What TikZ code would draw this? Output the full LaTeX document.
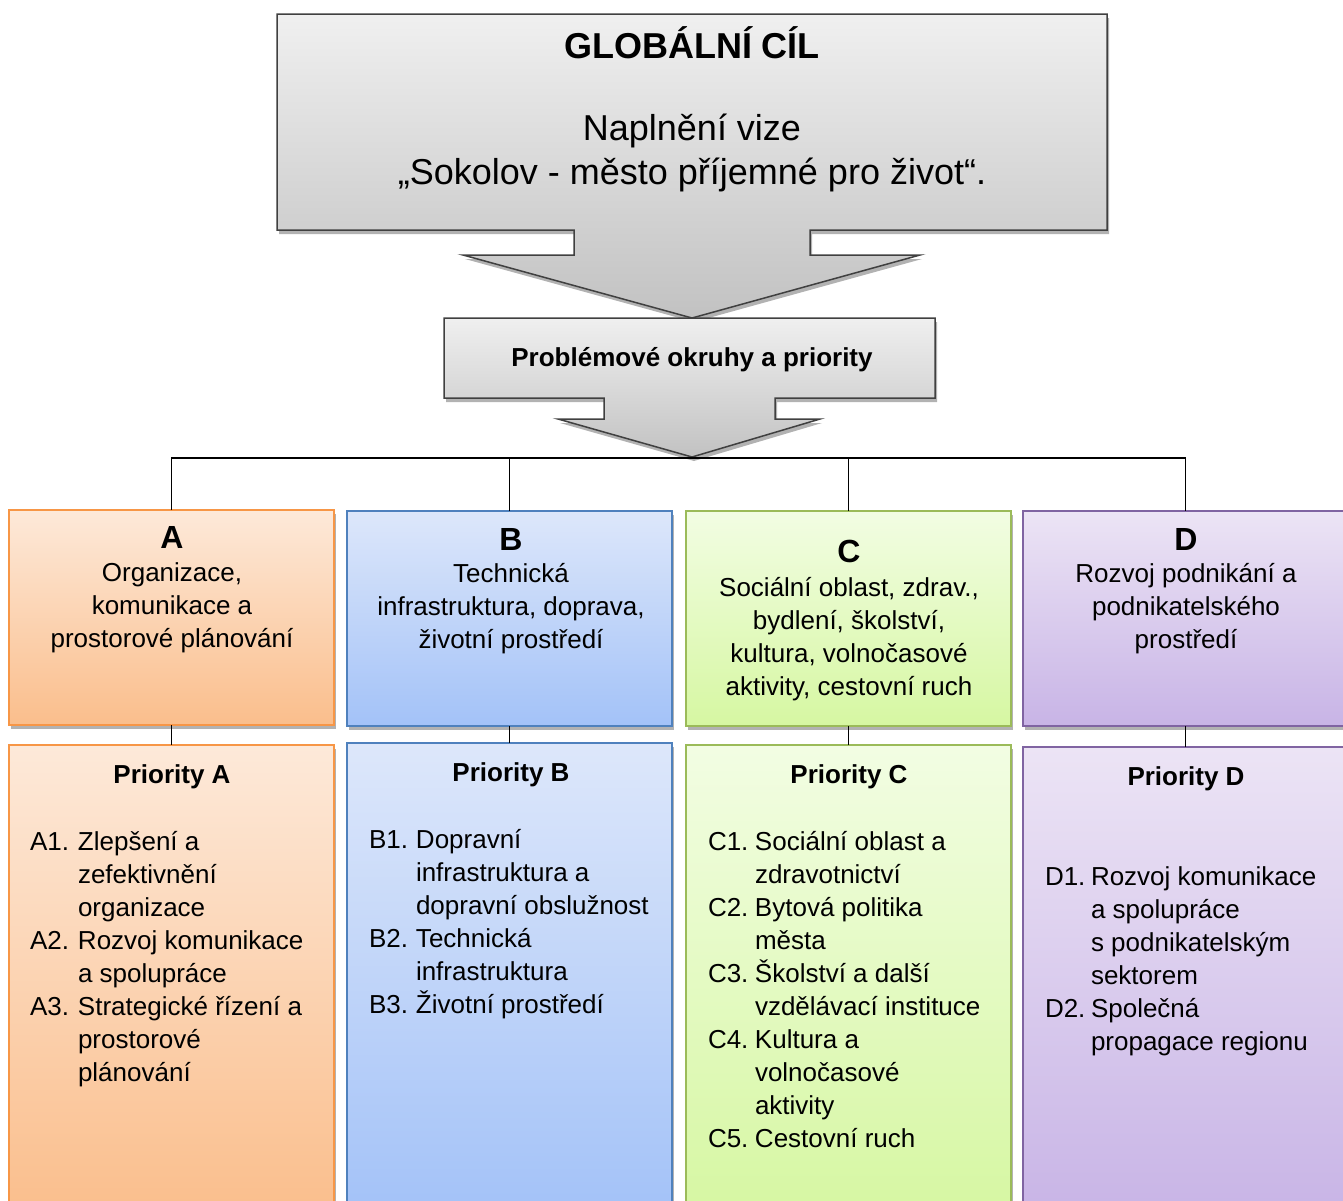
\documentclass[tikz,border=0pt]{standalone}
\usepackage{fontspec}
\setmainfont{Liberation Sans}
\usetikzlibrary{shadows}

\definecolor{orA}{HTML}{F79646}
\definecolor{orAtop}{HTML}{FDE9D9}
\definecolor{orAbot}{HTML}{FABE8C}
\definecolor{blB}{HTML}{4F81BD}
\definecolor{blBtop}{HTML}{DDE7FA}
\definecolor{blBbot}{HTML}{A3C2F8}
\definecolor{grC}{HTML}{9BBB59}
\definecolor{grCtop}{HTML}{F2FDE3}
\definecolor{grCbot}{HTML}{D6F7A2}
\definecolor{viD}{HTML}{8064A2}
\definecolor{viDtop}{HTML}{ECE4F5}
\definecolor{viDbot}{HTML}{C8B4E6}

\newcommand{\bodyfont}{\fontsize{26}{33}\selectfont}

\begin{document}
\begin{tikzpicture}[
  x=1pt, y=-1pt,
  every node/.style={inner sep=0pt, outer sep=0pt, font=\bodyfont},
  boxshadow/.style={drop shadow={shadow xshift=2pt, shadow yshift=-4pt, opacity=0.3, fill=black}},
  arrowbox/.style={draw=black!75, line width=1.5pt, top color=black!6, bottom color=black!24, boxshadow},
  area/.style={draw, line width=2pt, minimum width=325pt, minimum height=215pt, anchor=north west, boxshadow},
  prio/.style={area, minimum height=470pt},
  colA/.style={draw=orA, top color=orAtop, bottom color=orAbot},
  colB/.style={draw=blB, top color=blBtop, bottom color=blBbot},
  colC/.style={draw=grC, top color=grCtop, bottom color=grCbot},
  colD/.style={draw=viD, top color=viDtop, bottom color=viDbot},
  letter/.style={font=\bfseries\fontsize{32}{38}\selectfont},
  head/.style={font=\bfseries\bodyfont, anchor=base},
  link/.style={draw=black, line width=1.5pt}
]
\useasboundingbox (0,0) rectangle (1343,1200);
\clip (0,0) rectangle (1343,1200);

% Global goal arrow
\draw[arrowbox] (277,14) -- (1107,14) -- (1107,230) -- (810,230) -- (810,255) -- (920,255)
  -- (692,318) -- (463,255) -- (574,255) -- (574,230) -- (277,230) -- cycle;
\node[font=\bfseries\fontsize{36}{44}\selectfont, anchor=base] (goalhead) at (692,58) {GLOBÁLNÍ CÍL};
\node[font=\fontsize{36}{44}\selectfont, anchor=north] (goaltext) at (692,110)
  {\begin{tabular}{@{}c@{}}Naplnění vize\\„Sokolov - město příjemné pro život“.\end{tabular}};

% Problem areas arrow
\draw[arrowbox] (444,318) -- (935,318) -- (935,398) -- (775,398) -- (775,419) -- (820,419)
  -- (692,457) -- (558,419) -- (604,419) -- (604,398) -- (444,398) -- cycle;
\node[head] (probl) at (692,366) {Problémové okruhy a priority};
\coordinate (hub) at (692,458);

% Areas
\node[area, colA] (areaA) at (9,510) {};
\node[area, colB] (areaB) at (347,511) {};
\node[area, colC] (areaC) at (686,511) {};
\node[area, colD] (areaD) at (1023,511) {};
\draw[link] (areaA.north) |- (hub) -| (areaD.north);
\draw[link] (areaB.north) -- (areaB.north |- hub);
\draw[link] (areaC.north) -- (areaC.north |- hub);

\node[letter] (letA) at (172,537) {A};
\node[letter] (letB) at (511,539) {B};
\node[letter] (letC) at (849,551) {C};
\node[letter] (letD) at (1186,539) {D};
\node[anchor=north] (textA) at (172,558)
  {\begin{tabular}{@{}c@{}}Organizace,\\komunikace a\\prostorové plánování\end{tabular}};
\node[anchor=north] (textB) at (511,559)
  {\begin{tabular}{@{}c@{}}Technická\\infrastruktura, doprava,\\životní prostředí\end{tabular}};
\node[anchor=north] (textC) at (849,573)
  {\begin{tabular}{@{}c@{}}Sociální oblast, zdrav.,\\bydlení, školství,\\kultura, volnočasové\\aktivity, cestovní ruch\end{tabular}};
\node[anchor=north] (textD) at (1186,559)
  {\begin{tabular}{@{}c@{}}Rozvoj podnikání a\\podnikatelského\\prostředí\end{tabular}};

% Priorities
\node[prio, colA] (prioA) at (9,745) {};
\node[prio, colB] (prioB) at (347,743) {};
\node[prio, colC] (prioC) at (686,745) {};
\node[prio, colD] (prioD) at (1023,747) {};
\draw[link] (areaA.south) -- (prioA.north);
\draw[link] (areaB.south) -- (prioB.north);
\draw[link] (areaC.south) -- (prioC.north);
\draw[link] (areaD.south) -- (prioD.north);

\node[head] (headA) at (172,783.5) {Priority A};
\node[head] (headB) at (511,781.5) {Priority B};
\node[head] (headC) at (849,783.5) {Priority C};
\node[head] (headD) at (1186,785.5) {Priority D};

\node[anchor=north west] (listA) at (30,827)
  {\begin{tabular}{@{}p{48pt}@{}l@{}}
   A1.&Zlepšení a\\ &zefektivnění\\ &organizace\\
   A2.&Rozvoj komunikace\\ &a spolupráce\\
   A3.&Strategické řízení a\\ &prostorové\\ &plánování
   \end{tabular}};
\node[anchor=north west] (listB) at (369,825)
  {\begin{tabular}{@{}p{47pt}@{}l@{}}
   B1.&Dopravní\\ &infrastruktura a\\ &dopravní obslužnost\\
   B2.&Technická\\ &infrastruktura\\
   B3.&Životní prostředí
   \end{tabular}};
\node[anchor=north west] (listC) at (708,827)
  {\begin{tabular}{@{}p{47pt}@{}l@{}}
   C1.&Sociální oblast a\\ &zdravotnictví\\
   C2.&Bytová politika\\ &města\\
   C3.&Školství a další\\ &vzdělávací instituce\\
   C4.&Kultura a\\ &volnočasové\\ &aktivity\\
   C5.&Cestovní ruch
   \end{tabular}};
\node[anchor=north west] (listD) at (1045,862)
  {\begin{tabular}{@{}p{46pt}@{}l@{}}
   D1.&Rozvoj komunikace\\ &a spolupráce\\ &s~podnikatelským\\ &sektorem\\
   D2.&Společná\\ &propagace regionu
   \end{tabular}};
\end{tikzpicture}
\end{document}
